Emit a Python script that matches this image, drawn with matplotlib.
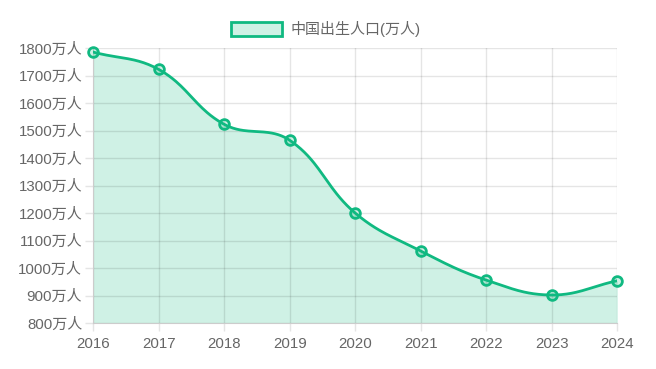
import matplotlib.pyplot as plt
from matplotlib.patches import Rectangle
import numpy as np

plt.rcParams['font.family'] = ['Liberation Sans', 'Noto Sans CJK SC', 'DejaVu Sans']

# Данные
years = [2016, 2017, 2018, 2019, 2020, 2021, 2022, 2023, 2024]
births = [1786, 1723, 1523, 1465, 1200, 1062, 956, 902, 954]
y_ticks = list(range(800, 1801, 100))
y_labels = [f'{v}万人' for v in y_ticks]
legend_label = '中国出生人口(万人)'

LINE = '#10b981'
FILL = (16 / 255, 185 / 255, 129 / 255, 0.2)
TEXT = '#666666'

W, H = 656, 369
fig = plt.figure(figsize=(W / 100, H / 100), dpi=100)
ax = fig.add_axes([93.3 / W, 1 - 323 / H, (617.3 - 93.3) / W, (323 - 48.3) / H])
ax.set_xlim(years[0], years[-1])
ax.set_ylim(800, 1800)


# Сглаживание как в Chart.js (tension 0.4)
def spline_curve(xs, ys, sx, sy, t=0.4, steps=40):
    xs = np.asarray(xs, float)
    ys = np.asarray(ys, float)
    n = len(xs)
    cp_prev, cp_next = [], []
    for i in range(n):
        p = np.array([xs[max(i - 1, 0)], ys[max(i - 1, 0)]])
        c = np.array([xs[i], ys[i]])
        nx = np.array([xs[min(i + 1, n - 1)], ys[min(i + 1, n - 1)]])
        scale = np.array([sx, sy])
        d01 = np.linalg.norm((c - p) * scale)
        d12 = np.linalg.norm((nx - c) * scale)
        tot = d01 + d12
        s01 = d01 / tot if tot else 0
        s12 = d12 / tot if tot else 0
        fa, fb = t * s01, t * s12
        cp_prev.append(c - fa * (nx - p))
        cp_next.append(c + fb * (nx - p))
    out_x, out_y = [], []
    u = np.linspace(0, 1, steps)
    for i in range(n - 1):
        p0 = np.array([xs[i], ys[i]])
        p1 = cp_next[i]
        p2 = cp_prev[i + 1]
        p3 = np.array([xs[i + 1], ys[i + 1]])
        pts = ((1 - u) ** 3)[:, None] * p0 + (3 * (1 - u) ** 2 * u)[:, None] * p1 \
            + (3 * (1 - u) * u ** 2)[:, None] * p2 + (u ** 3)[:, None] * p3
        out_x.extend(pts[:, 0])
        out_y.extend(pts[:, 1])
    return np.array(out_x), np.array(out_y)


cx, cy = spline_curve(years, births, 65.5, 0.275)

ax.fill_between(cx, cy, 800, color=FILL, lw=0, zorder=2)
ax.plot(cx, cy, color=LINE, lw=2, zorder=3)
ax.plot(years, births, 'o', ms=7, mfc=FILL, mec=LINE, mew=2, zorder=4, clip_on=False)

ax.set_xticks(years)
ax.set_xticklabels([str(y) for y in years])
ax.set_yticks(y_ticks)
ax.set_yticklabels(y_labels)
ax.set_axisbelow(False)
ax.tick_params(axis='both', color='#e5e5e5', labelcolor=TEXT, labelsize=10.8, length=6, width=1)
ax.tick_params(axis='y', pad=2)
ax.tick_params(axis='x', pad=4)
ax.grid(True, color='black', alpha=0.1, lw=1)
for side in ['top', 'right']:
    ax.spines[side].set_visible(False)
for side in ['left', 'bottom']:
    ax.spines[side].set_color('#cccccc')
    ax.spines[side].set_zorder(2.6)

# Легенда
fig.patches.append(Rectangle((231 / W, 1 - 36 / H), 51 / W, 14 / H,
                             transform=fig.transFigure, facecolor=FILL,
                             edgecolor=LINE, lw=2))
fig.text(290 / W, 1 - 28.8 / H, legend_label, color=TEXT, fontsize=10.8,
         va='center', ha='left')

fig.savefig('out.png', dpi=100)
